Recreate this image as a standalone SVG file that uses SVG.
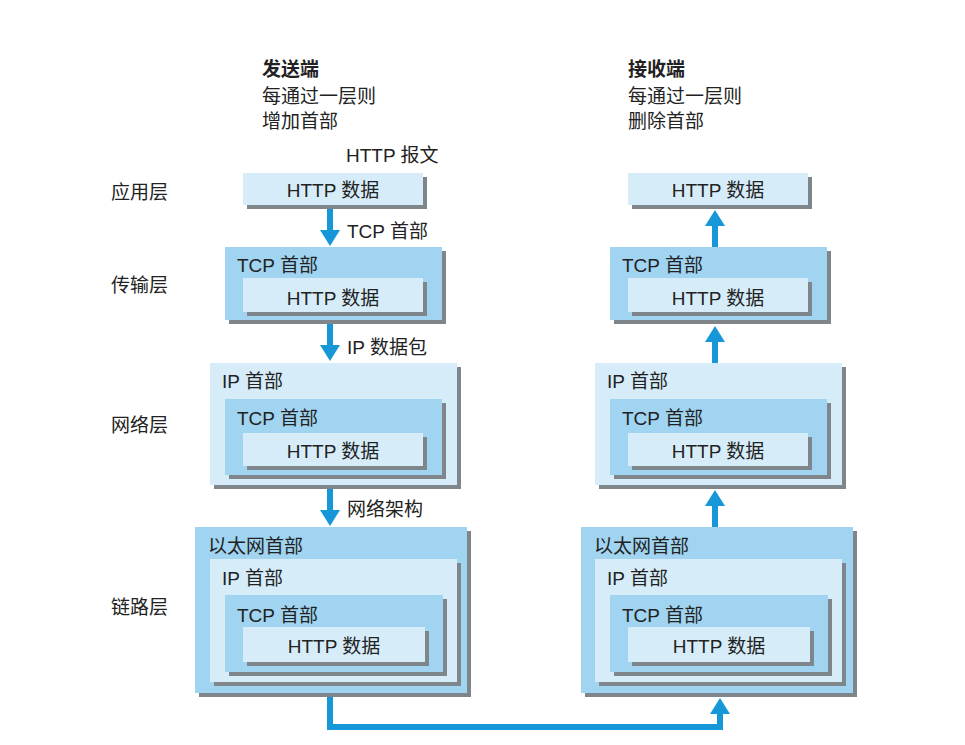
<svg xmlns="http://www.w3.org/2000/svg" width="965" height="745" viewBox="0 0 965 745">
<style>
text{font-family:"Liberation Sans","Noto Sans CJK SC",sans-serif;font-size:19px;fill:#222}
.b{font-weight:bold}
.mid{text-anchor:middle}
.m{fill:#a0d4f1}
.l{fill:#d6edf9}
.sh{fill:#7e868b}
.ar{stroke:#1698d8;stroke-width:6;fill:none}
.ah{fill:#1698d8}
</style>
<defs>
<g id="arrowDown"><rect x="-3" y="0" width="6" height="22" class="ah"/><polygon points="-10,21 10,21 0,37" class="ah"/></g>
</defs>
<rect width="965" height="745" fill="#fff"/>
<g id="headers">
<text x="262" y="76" class="b">发送端</text>
<text x="262" y="103">每通过一层则</text>
<text x="262" y="128">增加首部</text>
<text x="628" y="76" class="b">接收端</text>
<text x="628" y="103">每通过一层则</text>
<text x="628" y="128">删除首部</text>
<text x="346" y="162">HTTP 报文</text>
</g>
<g id="layer-labels">
<text x="111" y="199">应用层</text>
<text x="111" y="292">传输层</text>
<text x="111" y="432">网络层</text>
<text x="111" y="614">链路层</text>
</g>
<!-- Sender side -->
<g id="send-app">
<rect x="247" y="177" width="180" height="32" class="sh"/>
<rect x="243" y="173" width="180" height="32" class="l"/>
<text x="333" y="197" class="mid">HTTP 数据</text>
</g>
<g id="send-transport">
<rect x="229" y="251" width="217" height="73" class="sh"/>
<rect x="225" y="247" width="217" height="73" class="m"/>
<text x="237" y="272">TCP 首部</text>
<rect x="247" y="282" width="180" height="34" class="sh"/>
<rect x="243" y="278" width="180" height="34" class="l"/>
<text x="333" y="305" class="mid">HTTP 数据</text>
</g>
<g id="send-network">
<rect x="214" y="367" width="247" height="122" class="sh"/>
<rect x="210" y="363" width="247" height="122" class="l"/>
<text x="222" y="388">IP 首部</text>
<rect x="229" y="403" width="217" height="76" class="sh"/>
<rect x="225" y="399" width="217" height="76" class="m"/>
<text x="237" y="425">TCP 首部</text>
<rect x="247" y="437" width="180" height="33" class="sh"/>
<rect x="243" y="433" width="180" height="33" class="l"/>
<text x="333" y="458" class="mid">HTTP 数据</text>
</g>
<g id="send-link">
<rect x="199" y="531" width="272" height="166" class="sh"/>
<rect x="195" y="527" width="272" height="166" class="m"/>
<text x="208" y="553">以太网首部</text>
<rect x="214" y="563" width="247" height="123" class="sh"/>
<rect x="210" y="559" width="247" height="123" class="l"/>
<text x="222" y="585">IP 首部</text>
<rect x="229" y="599" width="218" height="77" class="sh"/>
<rect x="225" y="595" width="218" height="77" class="m"/>
<text x="237" y="622">TCP 首部</text>
<rect x="247" y="631" width="182" height="35" class="sh"/>
<rect x="243" y="627" width="182" height="35" class="l"/>
<text x="334" y="653" class="mid">HTTP 数据</text>
</g>
<!-- Receiver side -->
<g id="recv-app">
<rect x="632" y="177" width="180" height="32" class="sh"/>
<rect x="628" y="173" width="180" height="32" class="l"/>
<text x="718" y="197" class="mid">HTTP 数据</text>
</g>
<g id="recv-transport">
<rect x="614" y="251" width="217" height="73" class="sh"/>
<rect x="610" y="247" width="217" height="73" class="m"/>
<text x="622" y="272">TCP 首部</text>
<rect x="632" y="282" width="180" height="34" class="sh"/>
<rect x="628" y="278" width="180" height="34" class="l"/>
<text x="718" y="305" class="mid">HTTP 数据</text>
</g>
<g id="recv-network">
<rect x="599" y="367" width="247" height="122" class="sh"/>
<rect x="595" y="363" width="247" height="122" class="l"/>
<text x="607" y="388">IP 首部</text>
<rect x="614" y="403" width="217" height="76" class="sh"/>
<rect x="610" y="399" width="217" height="76" class="m"/>
<text x="622" y="425">TCP 首部</text>
<rect x="632" y="437" width="180" height="33" class="sh"/>
<rect x="628" y="433" width="180" height="33" class="l"/>
<text x="718" y="458" class="mid">HTTP 数据</text>
</g>
<g id="recv-link">
<rect x="585" y="531" width="272" height="166" class="sh"/>
<rect x="581" y="527" width="272" height="166" class="m"/>
<text x="594" y="553">以太网首部</text>
<rect x="599" y="563" width="247" height="123" class="sh"/>
<rect x="595" y="559" width="247" height="123" class="l"/>
<text x="607" y="585">IP 首部</text>
<rect x="614" y="599" width="218" height="77" class="sh"/>
<rect x="610" y="595" width="218" height="77" class="m"/>
<text x="622" y="622">TCP 首部</text>
<rect x="632" y="631" width="182" height="35" class="sh"/>
<rect x="628" y="627" width="182" height="35" class="l"/>
<text x="719" y="653" class="mid">HTTP 数据</text>
</g>
<g id="connectors">
<use href="#arrowDown" transform="translate(330,209)"/>
<use href="#arrowDown" transform="translate(330,324)"/>
<use href="#arrowDown" transform="translate(330,489)"/>
<use href="#arrowDown" transform="translate(715,247) scale(1,-1)"/>
<use href="#arrowDown" transform="translate(715,363) scale(1,-1)"/>
<use href="#arrowDown" transform="translate(715,527) scale(1,-1)"/>
<polyline points="330,697 330,727 720,727 720,712" class="ar"/>
<polygon points="710,714 730,714 720,698" class="ah"/>
<text x="347" y="238">TCP 首部</text>
<text x="347" y="354">IP 数据包</text>
<text x="347" y="516">网络架构</text>
</g>
</svg>
